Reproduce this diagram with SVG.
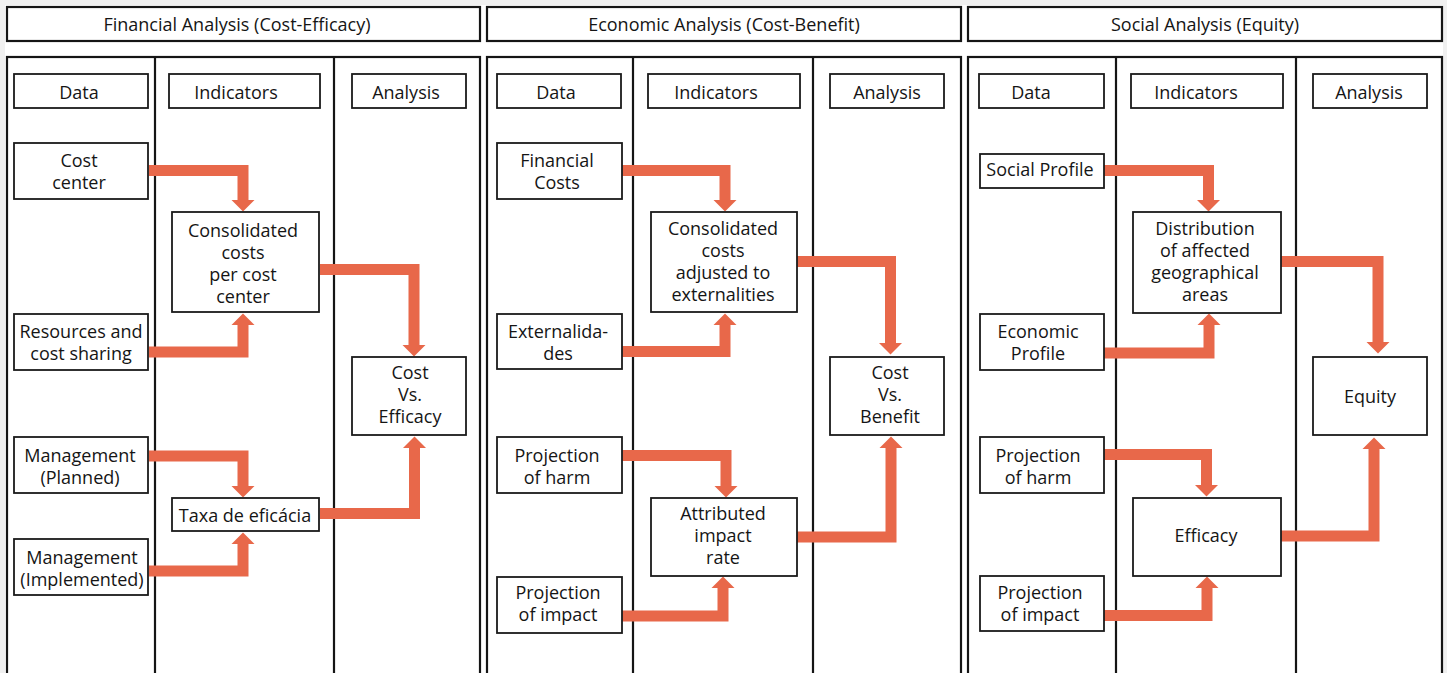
<svg xmlns="http://www.w3.org/2000/svg" width="1447" height="673" viewBox="0 0 1447 673">
<style>
.bg{fill:#f0f0f0}
.panel{fill:#fff;stroke:#151515;stroke-width:2.2}
.div{stroke:#151515;stroke-width:2.2}
.box{fill:#fff;stroke:#1a1a1a;stroke-width:1.8}
.t{font-family:"Open Sans","DejaVu Sans",sans-serif;font-size:18px;fill:#151515;text-anchor:middle}
.arr{fill:none;stroke:#E8684A;stroke-width:11;stroke-linejoin:miter;marker-end:url(#head)}
</style>
<defs>
<marker id="head" markerUnits="userSpaceOnUse" markerWidth="12" markerHeight="24" refX="0" refY="12" orient="auto" overflow="visible">
<path d="M0,0.5 L11.5,12 L0,23.5 Z" fill="#E8684A"/>
</marker>
</defs>
<rect class="bg" x="0" y="0" width="1447" height="673"/>
<rect x="5" y="5" width="1438" height="668" fill="#fff"/>

<g id="panel-financial">
<rect class="panel" x="7" y="7" width="473" height="34"/>
<text class="t" x="237" y="30.5">Financial Analysis (Cost-Efficacy)</text>
<rect class="panel" x="7" y="57" width="473" height="630"/>
<line class="div" x1="155" y1="57" x2="155" y2="673"/>
<line class="div" x1="334" y1="57" x2="334" y2="673"/>
</g>
<g id="panel-economic">
<rect class="panel" x="487" y="7" width="474" height="34"/>
<text class="t" x="724" y="30.5">Economic Analysis (Cost-Benefit)</text>
<rect class="panel" x="487" y="57" width="474" height="630"/>
<line class="div" x1="633" y1="57" x2="633" y2="673"/>
<line class="div" x1="813" y1="57" x2="813" y2="673"/>
</g>
<g id="panel-social">
<rect class="panel" x="968" y="7" width="474" height="34"/>
<text class="t" x="1205" y="30.5">Social Analysis (Equity)</text>
<rect class="panel" x="968" y="57" width="474" height="630"/>
<line class="div" x1="1116" y1="57" x2="1116" y2="673"/>
<line class="div" x1="1296" y1="57" x2="1296" y2="673"/>
</g>

<g id="connectors">
<path class="arr" d="M149,170.5 H243 V200"/>
<path class="arr" d="M149,352 H243 V325"/>
<path class="arr" d="M320,269.5 H414 V345"/>
<path class="arr" d="M149,456 H243 V486"/>
<path class="arr" d="M149,571 H243 V544"/>
<path class="arr" d="M320,513.5 H414.5 V448"/>

<path class="arr" d="M622,170.5 H725 V200"/>
<path class="arr" d="M622,351.5 H725 V325"/>
<path class="arr" d="M797,261.5 H890.5 V343"/>
<path class="arr" d="M622,455.5 H726 V486"/>
<path class="arr" d="M622,616 H723 V588"/>
<path class="arr" d="M797,537 H891 V448"/>

<path class="arr" d="M1104,170.5 H1208.5 V200"/>
<path class="arr" d="M1104,353 H1209 V325"/>
<path class="arr" d="M1281,261.5 H1378 V342"/>
<path class="arr" d="M1104,454.5 H1206.5 V485"/>
<path class="arr" d="M1104,615.5 H1207 V588"/>
<path class="arr" d="M1281,536 H1374 V449"/>
</g>

<!-- Panel 1 -->
<g id="f-data"><rect class="box" x="14" y="74" width="134" height="34"/><text class="t" x="79" y="98.5">Data</text></g>
<g id="f-indicators"><rect class="box" x="169" y="74" width="151" height="34"/><text class="t" x="236" y="98.5">Indicators</text></g>
<g id="f-analysis"><rect class="box" x="352" y="74" width="114" height="34"/><text class="t" x="406" y="98.5">Analysis</text></g>
<g id="f-costcenter"><rect class="box" x="14" y="143" width="134" height="56"/><text class="t" x="79" y="167">Cost</text><text class="t" x="79" y="189">center</text></g>
<g id="f-resources"><rect class="box" x="14" y="314" width="134" height="56"/><text class="t" x="81" y="338">Resources and</text><text class="t" x="81" y="360">cost sharing</text></g>
<g id="f-mgmt-planned"><rect class="box" x="14" y="437" width="134" height="56"/><text class="t" x="80" y="461.5">Management</text><text class="t" x="80" y="483.5">(Planned)</text></g>
<g id="f-mgmt-impl"><rect class="box" x="14" y="539" width="134" height="56"/><text class="t" x="82" y="563.5">Management</text><text class="t" x="82" y="585.5">(Implemented)</text></g>
<g id="f-consolidated"><rect class="box" x="172" y="212" width="147" height="100"/><text class="t" x="243" y="237">Consolidated</text><text class="t" x="243" y="259">costs</text><text class="t" x="243" y="281">per cost</text><text class="t" x="243" y="303">center</text></g>
<g id="f-taxa"><rect class="box" x="172" y="498" width="147" height="33"/><text class="t" x="245" y="521.5">Taxa de eficácia</text></g>
<g id="f-costefficacy"><rect class="box" x="352" y="357" width="114" height="78"/><text class="t" x="410" y="379">Cost</text><text class="t" x="410" y="401">Vs.</text><text class="t" x="410" y="423">Efficacy</text></g>

<!-- Panel 2 -->
<g id="e-data"><rect class="box" x="497" y="74" width="124" height="34"/><text class="t" x="556" y="98.5">Data</text></g>
<g id="e-indicators"><rect class="box" x="648" y="74" width="152" height="34"/><text class="t" x="716" y="98.5">Indicators</text></g>
<g id="e-analysis"><rect class="box" x="830" y="74" width="114" height="34"/><text class="t" x="887" y="98.5">Analysis</text></g>
<g id="e-fincosts"><rect class="box" x="497" y="143" width="125" height="56"/><text class="t" x="557" y="167">Financial</text><text class="t" x="557" y="189">Costs</text></g>
<g id="e-external"><rect class="box" x="497" y="314" width="125" height="55"/><text class="t" x="558" y="338">Externalida-</text><text class="t" x="558" y="360">des</text></g>
<g id="e-harm"><rect class="box" x="497" y="437" width="125" height="56"/><text class="t" x="557" y="462">Projection</text><text class="t" x="557" y="484">of harm</text></g>
<g id="e-impact"><rect class="box" x="497" y="577" width="125" height="56"/><text class="t" x="558" y="599">Projection</text><text class="t" x="558" y="621">of impact</text></g>
<g id="e-consolidated"><rect class="box" x="651" y="212" width="146" height="100"/><text class="t" x="723" y="235">Consolidated</text><text class="t" x="723" y="257">costs</text><text class="t" x="723" y="279">adjusted to</text><text class="t" x="723" y="301">externalities</text></g>
<g id="e-attributed"><rect class="box" x="651" y="498" width="146" height="78"/><text class="t" x="723" y="520">Attributed</text><text class="t" x="723" y="542">impact</text><text class="t" x="723" y="564">rate</text></g>
<g id="e-costbenefit"><rect class="box" x="830" y="357" width="114" height="78"/><text class="t" x="890" y="378.5">Cost</text><text class="t" x="890" y="400.5">Vs.</text><text class="t" x="890" y="422.5">Benefit</text></g>

<!-- Panel 3 -->
<g id="s-data"><rect class="box" x="979" y="74" width="125" height="34"/><text class="t" x="1031" y="98.5">Data</text></g>
<g id="s-indicators"><rect class="box" x="1131" y="74" width="152" height="34"/><text class="t" x="1196" y="98.5">Indicators</text></g>
<g id="s-analysis"><rect class="box" x="1313" y="74" width="114" height="34"/><text class="t" x="1369" y="98.5">Analysis</text></g>
<g id="s-social"><rect class="box" x="980" y="154" width="124" height="34"/><text class="t" x="1040" y="176">Social Profile</text></g>
<g id="s-economic"><rect class="box" x="980" y="314" width="124" height="56"/><text class="t" x="1038" y="338">Economic</text><text class="t" x="1038" y="360">Profile</text></g>
<g id="s-harm"><rect class="box" x="980" y="437" width="124" height="56"/><text class="t" x="1038" y="462">Projection</text><text class="t" x="1038" y="484">of harm</text></g>
<g id="s-impact"><rect class="box" x="980" y="576" width="124" height="55"/><text class="t" x="1040" y="599">Projection</text><text class="t" x="1040" y="621">of impact</text></g>
<g id="s-distribution"><rect class="box" x="1133" y="212" width="148" height="101"/><text class="t" x="1205" y="235">Distribution</text><text class="t" x="1205" y="257">of affected</text><text class="t" x="1205" y="279">geographical</text><text class="t" x="1205" y="301">areas</text></g>
<g id="s-efficacy"><rect class="box" x="1133" y="498" width="148" height="78"/><text class="t" x="1206" y="542">Efficacy</text></g>
<g id="s-equity"><rect class="box" x="1313" y="357" width="114" height="78"/><text class="t" x="1370" y="402.5">Equity</text></g>
</svg>
